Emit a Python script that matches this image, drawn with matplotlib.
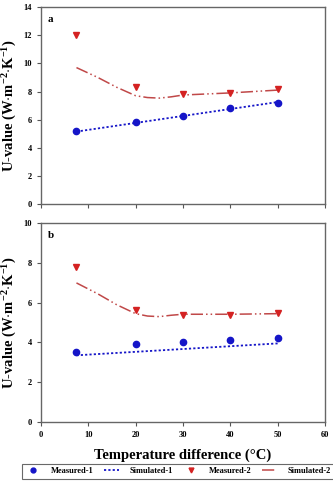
import numpy as np
import matplotlib
matplotlib.use("Agg")
import matplotlib.pyplot as plt
from matplotlib.lines import Line2D

plt.rcParams["font.family"] = ["Liberation Serif", "DejaVu Serif"]
plt.rcParams["font.weight"] = "bold"
plt.rcParams["mathtext.fontset"] = "custom"
plt.rcParams["mathtext.rm"] = "Liberation Serif:bold"
plt.rcParams["mathtext.bf"] = "Liberation Serif:bold"
plt.rcParams["mathtext.default"] = "bf"

# measured points
x_meas = [7.5, 20, 30, 40, 50]
a_meas1 = [5.2, 5.8, 6.25, 6.85, 7.2]
a_meas2 = [12.0, 8.35, 7.85, 7.9, 8.15]
b_meas1 = [3.5, 3.9, 4.0, 4.1, 4.2]
b_meas2 = [7.8, 5.65, 5.4, 5.4, 5.5]

# simulated curves
x_sim1 = [7.5, 50]
a_sim1 = [5.15, 7.25]
b_sim1 = [3.35, 3.95]
x_sim2 = [7.5, 12, 16, 20, 22.5, 25, 27.5, 30, 40, 50]
a_sim2 = [9.7, 9.0, 8.3, 7.7, 7.57, 7.53, 7.62, 7.75, 7.9, 8.1]
b_sim2 = [7.0, 6.45, 5.9, 5.45, 5.33, 5.3, 5.37, 5.42, 5.42, 5.45]

blue = "#1515c8"
red = "#d42222"
sim2_col = "#c04848"
dashdotdot = (0, (8, 2, 1, 2, 1, 2))

fig = plt.figure(figsize=(3.33, 4.91), dpi=100)
ax_a = fig.add_axes([0.123, 0.5845, 0.853, 0.401])
ax_b = fig.add_axes([0.123, 0.141, 0.853, 0.404])

panels = [
    (ax_a, a_meas1, a_meas2, a_sim1, a_sim2, 14, "a"),
    (ax_b, b_meas1, b_meas2, b_sim1, b_sim2, 10, "b"),
]
for ax, m1, m2, s1, s2, ymax, tag in panels:
    ax.plot(x_sim1, s1, color=blue, linestyle=(0, (1.2, 1.2)), linewidth=1.3)
    ax.plot(x_sim2, s2, color=sim2_col, linestyle=dashdotdot, linewidth=1.1)
    ax.plot(x_meas, m1, "o", color=blue, markersize=4.5)
    ax.plot(x_meas, m2, "v", color=red, markersize=4.5)
    ax.set_xlim(0, 60)
    ax.set_ylim(0, ymax)
    ax.set_yticks(range(0, ymax + 1, 2))
    ax.set_xticks(range(0, 61, 10))
    ax.tick_params(labelsize=6, length=3, width=0.8, color="#555555")
    for sp in ax.spines.values():
        sp.set_color("#666666")
        sp.set_linewidth(1.0)
    ax.text(0.025, 0.96, tag, transform=ax.transAxes, fontsize=8,
            fontweight="bold", va="top", ha="left")
    ax.set_ylabel(r"U-value (W$\cdot$m$^{-2}$$\cdot$K$^{-1}$)",
                  fontsize=10.5, fontweight="bold", labelpad=3)

ax_a.tick_params(axis="x", labelbottom=False)
ax_b.set_xlabel("Temperature difference (°C)", fontsize=10.5,
                fontweight="bold", labelpad=7)

handles = [
    Line2D([], [], marker="o", color=blue, linestyle="none", markersize=3.5),
    Line2D([], [], color=blue, linestyle=(0, (1.2, 1.2)), linewidth=1.3),
    Line2D([], [], marker="v", color=red, linestyle="none", markersize=3.5),
    Line2D([], [], color=sim2_col, linestyle=dashdotdot, linewidth=1.1),
]
labels = ["Measured-1", "Simulated-1", "Measured-2", "Simulated-2"]
leg = fig.legend(handles, labels, loc="center", bbox_to_anchor=(0.535, 0.04),
                 ncol=4, fontsize=6, frameon=True, fancybox=False,
                 handlelength=1.8, handletextpad=1.2, columnspacing=1.3,
                 borderpad=0.45)
leg.get_frame().set_edgecolor("#444444")
leg.get_frame().set_linewidth(0.8)

fig.savefig("out.png", dpi=100)
